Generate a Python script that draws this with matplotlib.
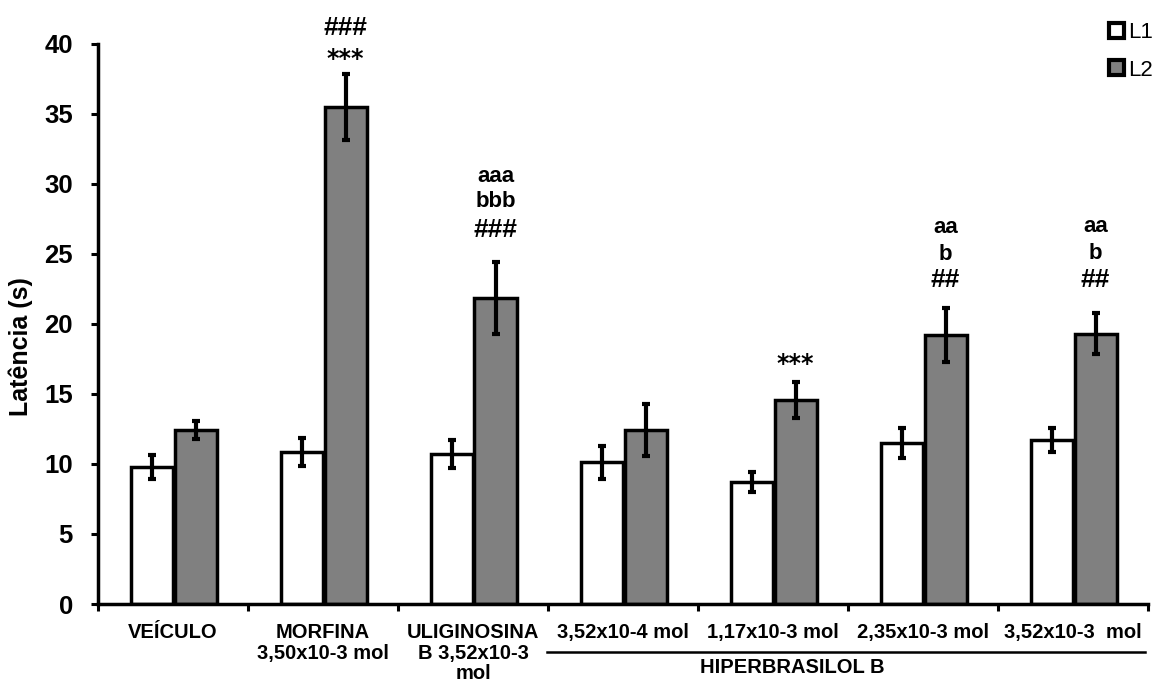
import numpy as np
import matplotlib
matplotlib.use('Agg')
import matplotlib.pyplot as plt
from matplotlib.patches import Patch

plt.rcParams['font.family'] = ['Liberation Sans', 'DejaVu Sans']

categories = ['VEÍCULO', 'MORFINA\n3,50x10-3 mol', 'ULIGINOSINA\nB 3,52x10-3\nmol',
              '3,52x10-4 mol', '1,17x10-3 mol', '2,35x10-3 mol', '3,52x10-3  mol']
l1_mean = [9.8, 10.85, 10.7, 10.1, 8.7, 11.5, 11.7]
l1_err = [0.85, 1.0, 1.0, 1.15, 0.7, 1.05, 0.85]
l2_mean = [12.4, 35.45, 21.85, 12.4, 14.55, 19.2, 19.3]
l2_err = [0.65, 2.35, 2.55, 1.85, 1.3, 1.95, 1.45]

# significance marks above L2 bars (bottom line first)
marks = [[], ['***', '###'], ['###', 'bbb', 'aaa'], [], ['***'],
         ['##', 'b', 'aa'], ['##', 'b', 'aa']]
mark_y = [[], [38.4, 40.6], [26.2, 28.3, 30.1], [], [16.6],
          [22.6, 24.55, 26.5], [22.6, 24.6, 26.55]]


def mark_style(m):
    # stars and hashes are drawn bigger than the letters in the original
    if m.startswith('*'):
        return dict(fontsize=17, family='DejaVu Sans')
    if m.startswith('#'):
        return dict(fontsize=19)
    return dict(fontsize=16)


def main():
    fig = plt.figure(figsize=(11.58, 6.81), dpi=100)
    ax = fig.add_axes([98 / 1158, 1 - 604 / 681, 1050 / 1158, 560.5 / 681])

    x = np.arange(len(categories))
    w = 0.28
    ekw = dict(ecolor='black', elinewidth=3, capsize=3, capthick=3)
    ax.bar(x - 0.14, l1_mean, w, color='white', edgecolor='black', linewidth=2.5,
           yerr=l1_err, error_kw=ekw, label='L1', zorder=2)
    ax.bar(x + 0.15, l2_mean, w, color='#808080', edgecolor='black', linewidth=2.5,
           yerr=l2_err, error_kw=ekw, label='L2', zorder=2)

    for i in range(len(categories)):
        for m, yy in zip(marks[i], mark_y[i]):
            ax.text(x[i] + 0.15, yy, m, ha='center', va='baseline',
                    fontweight='bold', clip_on=False, **mark_style(m))

    ax.set_xlim(-0.5, len(categories) - 0.5)
    ax.set_ylim(0, 40)
    ax.set_yticks(range(0, 41, 5))
    ax.set_xticks(np.arange(-0.5, len(categories), 1.0))
    ax.set_xticklabels([])
    ax.set_xticks(x, minor=True)
    ax.set_xticklabels(categories, minor=True, fontsize=14.5, fontweight='bold',
                       linespacing=1.1)
    ax.tick_params(axis='x', which='minor', length=0, pad=14)
    ax.tick_params(axis='x', which='major', length=5, width=2.2, direction='out')
    ax.tick_params(axis='y', length=5, width=2.2, direction='out', pad=13, labelsize=18.5)
    for lab in ax.get_yticklabels():
        lab.set_fontweight('bold')

    for s in ['top', 'right']:
        ax.spines[s].set_visible(False)
    for s in ['left', 'bottom']:
        ax.spines[s].set_linewidth(2.5)

    ax.set_ylabel('Latência (s)', fontsize=18, fontweight='bold')
    ax.yaxis.set_label_coords(-0.062, 0.46)

    # HIPERBRASILOL B bracket
    trans = ax.get_xaxis_transform()
    ax.plot([2.493, 6.48], [-0.0856, -0.0856], color='black', lw=1.8,
            transform=trans, clip_on=False)
    ax.text(4.127, -0.114, 'HIPERBRASILOL B', transform=trans, ha='center', va='center',
            fontsize=14.5, fontweight='bold', clip_on=False)

    handles = [Patch(facecolor='white', edgecolor='black', linewidth=3, label='L1'),
               Patch(facecolor='#808080', edgecolor='black', linewidth=3, label='L2')]
    fig.legend(handles=handles, loc='upper right', bbox_to_anchor=(1.013, 0.997),
               frameon=False, fontsize=16, handlelength=0.65, handleheight=0.65,
               handletextpad=0.2, labelspacing=0.75)

    fig.savefig('out.png', dpi=100)


if __name__ == '__main__':
    main()
